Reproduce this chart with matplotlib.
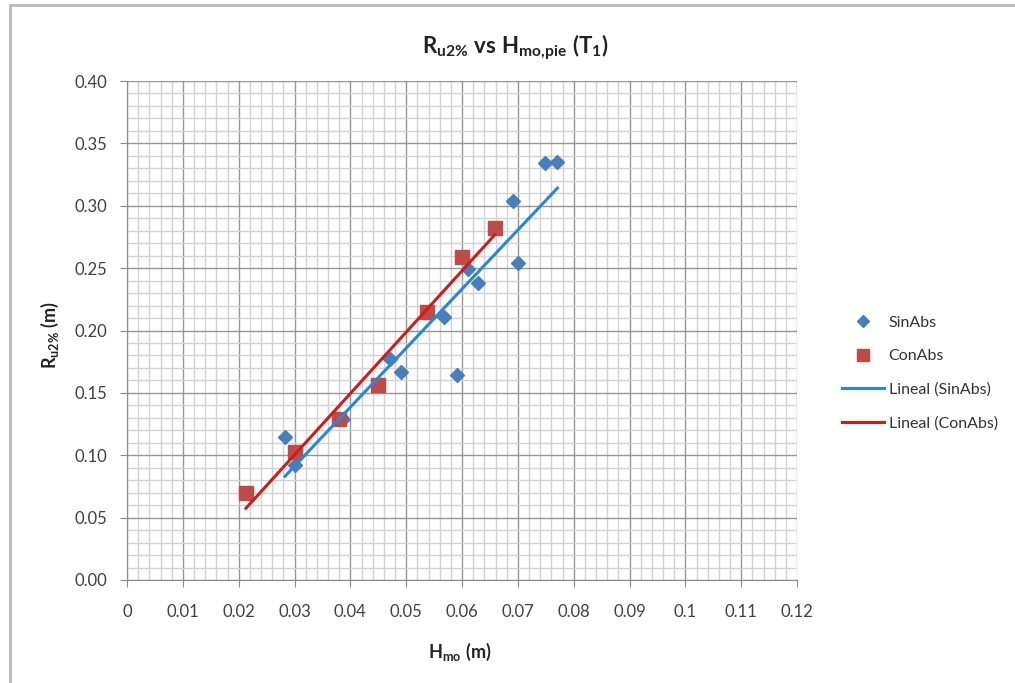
import numpy as np
import matplotlib.pyplot as plt
from matplotlib.patches import Rectangle
from matplotlib.ticker import MultipleLocator

plt.rcParams['font.family'] = ['Lato', 'DejaVu Sans']
plt.rcParams['mathtext.fontset'] = 'custom'
plt.rcParams['mathtext.rm'] = 'Lato'
plt.rcParams['mathtext.it'] = 'Lato'
plt.rcParams['mathtext.bf'] = 'Lato:bold'

# Data
sin_x = [0.0283, 0.0301, 0.0387, 0.0471, 0.0491, 0.0568, 0.0591, 0.0611,
         0.0629, 0.0692, 0.0701, 0.0749, 0.0771]
sin_y = [0.115, 0.092, 0.129, 0.177, 0.167, 0.211, 0.164, 0.249,
         0.238, 0.304, 0.254, 0.334, 0.335]
con_x = [0.0213, 0.0301, 0.0380, 0.0450, 0.0538, 0.0600, 0.0659]
con_y = [0.070, 0.103, 0.129, 0.156, 0.215, 0.259, 0.282]

x_ticks = [0, 0.01, 0.02, 0.03, 0.04, 0.05, 0.06, 0.07, 0.08, 0.09, 0.1, 0.11, 0.12]
x_labels = ['0', '0.01', '0.02', '0.03', '0.04', '0.05', '0.06', '0.07',
            '0.08', '0.09', '0.1', '0.11', '0.12']
y_ticks = [0.00, 0.05, 0.10, 0.15, 0.20, 0.25, 0.30, 0.35, 0.40]
y_labels = ['%.2f' % v for v in y_ticks]

blue_mk = '#4a7ebb'
red_mk = '#be4b48'
blue_ln = '#2a86d6'
red_ln = '#cc1d1d'

fig = plt.figure(figsize=(10.15, 6.83), dpi=100)
ax = fig.add_axes([127 / 1015, 1 - 580 / 683, 670 / 1015, 499 / 683])

# outer chart frame
fig.patches.append(Rectangle((10 / 1015, -0.1), 1.2, 1 - 5 / 683 + 0.1,
                             transform=fig.transFigure, fill=False,
                             edgecolor='#bdbdbd', linewidth=2.2, zorder=0))

ax.set_xlim(0, 0.12)
ax.set_ylim(0, 0.40)
ax.set_xticks(x_ticks)
ax.set_xticklabels(x_labels)
ax.set_yticks(y_ticks)
ax.set_yticklabels(y_labels)
ax.xaxis.set_minor_locator(MultipleLocator(0.002))
ax.yaxis.set_minor_locator(MultipleLocator(0.01))
ax.grid(which='major', color='#969696', linewidth=1.0, zorder=0)
ax.grid(which='minor', color='#d2d2d2', linewidth=1.0, zorder=0)
ax.set_axisbelow(True)
ax.tick_params(which='major', direction='out', length=5, color='#8a8a8a',
               labelsize=12, labelcolor='#404040')
ax.tick_params(axis='y', pad=9)
ax.tick_params(axis='x', pad=12)
ax.tick_params(which='minor', length=0)
for s in ['top', 'right']:
    ax.spines[s].set_visible(False)
for s in ['left', 'bottom']:
    ax.spines[s].set_color('#8a8a8a')

# linear trendlines
p_sin = np.polyfit(sin_x, sin_y, 1)
p_con = np.polyfit(con_x, con_y, 1)
xs = np.array([min(sin_x), max(sin_x)])
xc = np.array([min(con_x), max(con_x)])

ax.plot(sin_x, sin_y, 'D', color=blue_mk, markersize=7, label='SinAbs', zorder=3)
ax.plot(con_x, con_y, 's', color=red_mk, markersize=10, label='ConAbs', zorder=3)
ax.plot(xs, np.polyval(p_sin, xs), color=blue_ln, linewidth=2.2,
        label='Lineal (SinAbs)', zorder=4)
ax.plot(xc, np.polyval(p_con, xc), color=red_ln, linewidth=2.2,
        label='Lineal (ConAbs)', zorder=4)

leg = fig.legend(loc='center left', bbox_to_anchor=(828 / 1015, 1 - 373 / 683),
                 frameon=False, fontsize=11.5, labelspacing=1.2,
                 handlelength=2.6, handletextpad=0.3, markerscale=0.85)
for t in leg.get_texts():
    t.set_color('#333333')

fig.text(515 / 1015, 1 - 47 / 683,
         r'$\mathbf{R_{u2\%}\ vs\ H_{mo{,}pie}\ (T_1)}$',
         ha='center', va='center', fontsize=16, color='#222222')
fig.text(460 / 1015, 1 - 652 / 683, r'$\mathbf{H_{mo}\ (m)}$',
         ha='center', va='center', fontsize=13, color='#222222')
fig.text(50 / 1015, 1 - 335 / 683, r'$\mathbf{R_{u2\%}\ (m)}$',
         ha='center', va='center', fontsize=13, color='#222222', rotation=90)

fig.savefig('out.png', dpi=100)
